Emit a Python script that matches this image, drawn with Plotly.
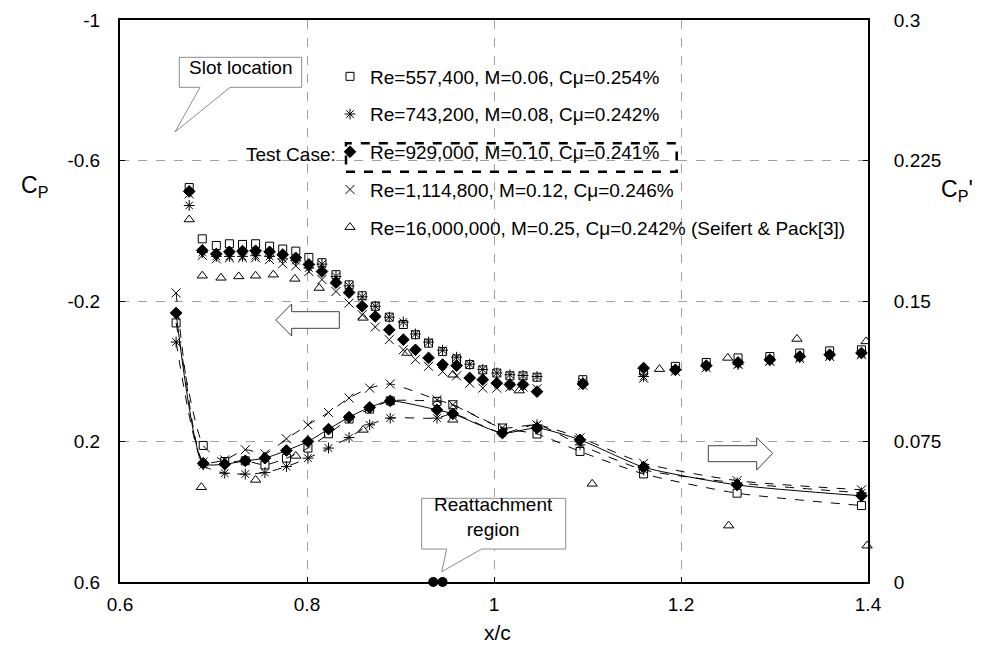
import plotly.graph_objects as go

# ---- mean Cp (left axis) ----
cp_x = [0.674, 0.688, 0.703, 0.717, 0.731, 0.745, 0.760, 0.774, 0.788, 0.802,
        0.816, 0.831, 0.845, 0.859, 0.873, 0.888, 0.903, 0.916, 0.930, 0.945,
        0.960, 0.974, 0.988, 1.003, 1.017, 1.031, 1.046, 1.095, 1.160, 1.194,
        1.227, 1.261, 1.295, 1.327, 1.359, 1.393]
cp_re557 = [-0.523, -0.377, -0.358, -0.363, -0.361, -0.363, -0.356, -0.348, -0.342, -0.324,
            -0.309, -0.275, -0.246, -0.215, -0.185, -0.154, -0.133, -0.104, -0.080, -0.056,
            -0.035, -0.019, -0.004, 0.005, 0.013, 0.013, 0.017, 0.024, -0.001, -0.014,
            -0.025, -0.038, -0.042, -0.052, -0.058, -0.061]
cp_re743 = [-0.472, -0.338, -0.327, -0.327, -0.327, -0.329, -0.327, -0.320, -0.315, -0.294,
            -0.305, -0.270, -0.243, -0.212, -0.185, -0.154, -0.140, -0.106, -0.083, -0.060,
            -0.040, -0.020, -0.005, 0.005, 0.010, 0.012, 0.015, 0.030, 0.015, -0.005,
            -0.015, -0.019, -0.030, -0.040, -0.045, -0.050]
cp_re929 = [-0.512, -0.344, -0.334, -0.340, -0.342, -0.343, -0.340, -0.332, -0.323, -0.304,
            -0.284, -0.252, -0.224, -0.185, -0.156, -0.118, -0.090, -0.061, -0.038, -0.019,
            -0.016, 0.019, 0.024, 0.034, 0.038, 0.038, 0.058, 0.036, -0.009, -0.004,
            -0.016, -0.025, -0.033, -0.042, -0.047, -0.052]
cp_re1114 = [-0.505, -0.330, -0.320, -0.323, -0.323, -0.323, -0.318, -0.306, -0.300, -0.284,
             -0.261, -0.227, -0.194, -0.161, -0.126, -0.090, -0.061, -0.033, -0.014, 0.001,
             0.013, 0.034, 0.048, 0.048, 0.045, 0.045, 0.050, 0.040, 0.020, 0.000,
             -0.010, -0.020, -0.028, -0.036, -0.042, -0.047]
cp_tri_x = [0.674, 0.688, 0.708, 0.727, 0.745, 0.764, 0.787, 0.813, 0.860, 0.907,
            0.956, 1.027, 1.177, 1.250, 1.324, 1.398]
cp_tri = [-0.432, -0.272, -0.266, -0.270, -0.272, -0.275, -0.263, -0.237, -0.152, -0.052,
          0.010, 0.055, -0.006, -0.038, -0.092, -0.085]

# ---- fluctuating Cp' (right axis) ----
rms_x = [0.660, 0.689, 0.712, 0.734, 0.755, 0.778, 0.801, 0.823, 0.845, 0.867,
         0.889, 0.939, 0.956, 1.009, 1.046, 1.092, 1.160, 1.260, 1.393]
rms_re557 = [0.1383, 0.0729, 0.0643, 0.0647, 0.0625, 0.0661, 0.0715, 0.0791, 0.0870, 0.0923,
             0.0967, 0.0964, 0.0946, 0.0822, 0.0790, 0.0697, 0.0577, 0.0474, 0.0408]
rms_re743 = [0.1281, 0.0625, 0.0581, 0.0576, 0.0584, 0.0616, 0.0661, 0.0715, 0.0771, 0.0839,
             0.0875, 0.0875, 0.0898, 0.0796, 0.0839, 0.0732, 0.0599, 0.0529, 0.0476]
rms_re929 = [0.1436, 0.0634, 0.0629, 0.0647, 0.0661, 0.0702, 0.0750, 0.0816, 0.0880, 0.0932,
             0.0967, 0.0919, 0.0898, 0.0795, 0.0822, 0.0759, 0.0613, 0.0518, 0.0460]
rms_re1114 = [0.1543, 0.0641, 0.0652, 0.0706, 0.0684, 0.0764, 0.0839, 0.0905, 0.0982, 0.1035,
              0.1057, 0.0973, 0.0946, 0.0823, 0.0839, 0.0770, 0.0634, 0.0541, 0.0492]
rms_tri_x = [0.687, 0.745, 0.788, 0.860, 0.956, 1.105, 1.251, 1.399]
rms_tri = [0.0506, 0.0545, 0.0673, 0.0812, 0.0866, 0.0524, 0.0301, 0.0194]

reattach_x = [0.935, 0.945]
reattach_y = [0.0, 0.0]

names = ["Re=557,400, M=0.06, Cμ=0.254%",
         "Re=743,200, M=0.08, Cμ=0.242%",
         "Re=929,000, M=0.10, Cμ=0.241%",
         "Re=1,114,800, M=0.12, Cμ=0.246%",
         "Re=16,000,000, M=0.25, Cμ=0.242% (Seifert &amp; Pack[3])"]

x_ticks = [0.6, 0.8, 1.0, 1.2, 1.4]
x_text = ["0.6", "0.8", "1", "1.2", "1.4"]
cp_ticks = [-1, -0.6, -0.2, 0.2, 0.6]
cp_text = ["-1", "-0.6", "-0.2", "0.2", "0.6"]
rms_ticks = [0, 0.075, 0.15, 0.225, 0.3]
rms_text = ["0", "0.075", "0.15", "0.225", "0.3"]

FONT = "Arial, Liberation Sans, sans-serif"

# plot area as it lands on screen (page body adds an 8px offset)
OFF = 8
L, R, T, B = 120, 868, 20, 582
W, H = 992 - OFF, 654 - OFF


def px(x):
    return (x - L) / (R - L)


def py(y):
    return (B - y) / (B - T)


def path(points):
    s = "M " + " L ".join(f"{px(a):.4f},{py(b):.4f}" for a, b in points)
    return s + " Z"


fig = go.Figure()

series = [
    (cp_re557, rms_re557, "square-open", 8, "dash"),
    (cp_re743, rms_re743, "asterisk-open", 9, "dash"),
    (cp_re929, rms_re929, "diamond", 9, "solid"),
    (cp_re1114, rms_re1114, "x-thin-open", 9, "dash"),
]
for i, (cp, rms, sym, size, dash) in enumerate(series):
    mk = dict(symbol=sym, size=size, color="black", line=dict(color="black", width=1))
    fig.add_trace(go.Scatter(x=cp_x, y=cp, mode="markers", marker=mk, name=names[i],
                             legendgroup=str(i), yaxis="y"))
    fig.add_trace(go.Scatter(x=rms_x, y=rms, mode="lines+markers", marker=mk,
                             line=dict(color="black", width=1, dash=dash, shape="spline", smoothing=0.6),
                             legendgroup=str(i), showlegend=False, yaxis="y2"))

tri = dict(symbol="triangle-up-open", size=9, color="black", line=dict(color="black", width=1))
fig.add_trace(go.Scatter(x=cp_tri_x, y=cp_tri, mode="markers", marker=tri, name=names[4],
                         legendgroup="4", yaxis="y"))
fig.add_trace(go.Scatter(x=rms_tri_x, y=rms_tri, mode="markers", marker=tri,
                         legendgroup="4", showlegend=False, yaxis="y2", cliponaxis=False))
fig.add_trace(go.Scatter(x=reattach_x, y=reattach_y, mode="markers", showlegend=False,
                         marker=dict(symbol="circle", size=10, color="black"),
                         yaxis="y2", cliponaxis=False))

axis_common = dict(showline=True, linecolor="black", linewidth=2, ticks="inside", ticklen=5,
                   tickcolor="black", zeroline=False, automargin=False,
                   tickfont=dict(size=19, color="black", family=FONT))

fig.update_layout(
    width=W, height=H,
    margin=dict(l=L - OFF, r=W - (R - OFF), t=T - OFF, b=H - (B - OFF), pad=0),
    plot_bgcolor="white", paper_bgcolor="white",
    font=dict(family=FONT, size=19, color="black"),
    xaxis=dict(range=[0.6, 1.4], tickvals=x_ticks, ticktext=x_text, showgrid=True,
               gridcolor="#a0a0a0", griddash="dash", gridwidth=1, mirror=True,
               ticklabelstandoff=4, **axis_common),
    yaxis=dict(range=[0.6, -1], tickvals=cp_ticks, ticktext=cp_text, showgrid=True,
               gridcolor="#a0a0a0", griddash="dash", gridwidth=1, mirror=True,
               ticklabelstandoff=14, **axis_common),
    yaxis2=dict(range=[0, 0.3], tickvals=rms_ticks, ticktext=rms_text, overlaying="y",
                side="right", showgrid=False, ticklabelstandoff=20, **axis_common),
    showlegend=True,
    legend=dict(x=px(330), y=py(57.5), xanchor="left", yanchor="top", traceorder="grouped",
                tracegroupgap=10, bgcolor="rgba(0,0,0,0)", font=dict(size=19, color="black")),
)

gray = dict(color="#8c8c8c", width=1)
shapes = [
    # hollow arrows
    dict(type="path", path=path([(275.7, 320), (291.7, 304), (291.7, 311.7), (339.3, 311.7),
                                 (339.3, 328.3), (291.7, 328.3), (291.7, 336)]),
         line=dict(color="#404040", width=1), fillcolor="white"),
    dict(type="path", path=path([(772.7, 453.3), (756.7, 437.7), (756.7, 445.7), (708.3, 445.7),
                                 (708.3, 461.7), (756.7, 461.7), (756.7, 470)]),
         line=dict(color="#404040", width=1), fillcolor="white"),
    # callouts
    dict(type="path", path=path([(179.3, 57.3), (301.7, 57.3), (301.7, 87.3), (230, 87.3),
                                 (175, 132), (200, 87.3), (179.3, 87.3)]),
         line=gray, fillcolor="white"),
    dict(type="path", path=path([(421.7, 498.3), (565.7, 498.3), (565.7, 549), (481.7, 549),
                                 (441.7, 571.7), (446.7, 549), (421.7, 549)]),
         line=gray, fillcolor="white"),
    # test case box
    dict(type="rect", x0=px(346), x1=px(676.7), y0=py(171.7), y1=py(143.3),
         line=dict(color="black", width=2.5, dash="dash")),
]
for s in shapes:
    s.update(xref="paper", yref="paper", layer="above")
    fig.add_shape(**s)

notes = [
    ("Slot location", 240.5, 68, "center", 19),
    ("Reattachment<br>region", 493.7, 517, "center", 19),
    ("Test Case:", 338, 155, "right", 19),
    ("C<sub>P</sub>", 34, 186, "center", 23),
    ("C<sub>P</sub>'", 957, 190, "center", 23),
    ("x/c", 497, 632, "center", 21),
]
for text, ax, ay, anchor, size in notes:
    fig.add_annotation(text=text, x=px(ax), y=py(ay), xref="paper", yref="paper",
                       xanchor=anchor, yanchor="middle", showarrow=False,
                       font=dict(size=size, color="black"))

fig.write_html("out.html")
